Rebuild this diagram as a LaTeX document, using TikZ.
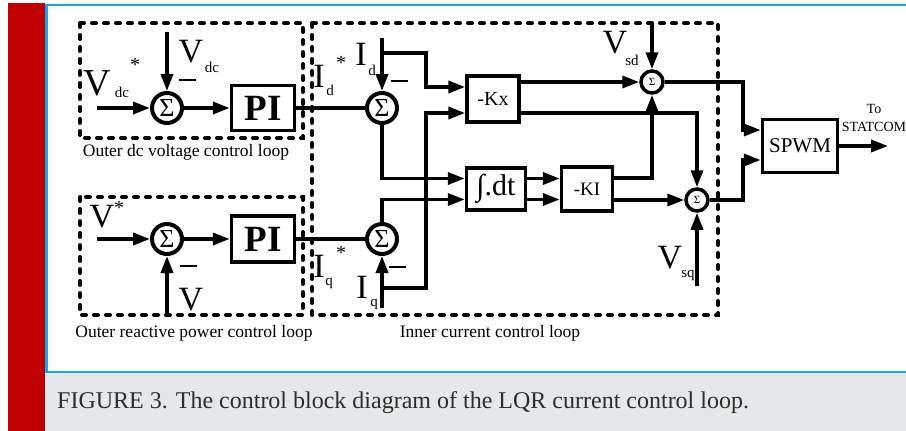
\documentclass[tikz,border=0pt]{standalone}
\usepackage{fontspec}
\setmainfont{Liberation Serif}
\usetikzlibrary{arrows.meta}
\definecolor{barred}{RGB}{192,0,0}
\definecolor{frameblue}{RGB}{20,170,230}
\definecolor{capgray}{RGB}{230,231,233}
\definecolor{captext}{RGB}{45,45,45}
\tikzset{
  sig/.style={line width=3.5pt,-{Triangle[length=17pt,width=12pt]}},
  wire/.style={line width=3.5pt},
  loopbox/.style={line width=4pt,dash pattern=on 4pt off 8pt,line cap=round},
  sumnode/.style={circle,draw,line width=4pt,fill=white,minimum size=30pt,inner sep=0pt,font=\fontsize{26}{26}\selectfont},
  ssum/.style={sumnode,minimum size=22pt,line width=3.5pt,font=\fontsize{11}{11}\selectfont},
  blockbox/.style={draw,line width=3.5pt,fill=white,inner sep=0pt},
  lbl/.style={font=\fontsize{34}{34}\selectfont,inner sep=0pt,anchor=base},
  lblsub/.style={font=\fontsize{15}{15}\selectfont,inner sep=0pt,anchor=base},
  lblstar/.style={font=\fontsize{20}{20}\selectfont,inner sep=0pt,anchor=base},
  minusbar/.style={inner sep=0pt},
  looplabel/.style={font=\fontsize{17.5}{17.5}\selectfont,inner sep=0pt}
}
\begin{document}
\begin{tikzpicture}[x=1pt,y=-1pt]
% page frame and caption strip
\useasboundingbox (0,0) rectangle (906,431);
\fill[white] (0,0) rectangle (906,431);
\fill[capgray] (46,373) rectangle (906,431);
\fill[barred] (8,3) rectangle (45,431);
\draw[frameblue,line width=2.5pt] (906,5) -- (46.5,5) -- (46.5,372) -- (906,372);
\node[anchor=base west,font=\fontsize{24}{24}\selectfont,text=captext,inner sep=0pt] (cap) at (57,408) {FIGURE 3. The control block diagram of the LQR current control loop.};

% dashed loops
\draw[loopbox] (80,23) rectangle (303,138);
\draw[loopbox] (80,197) rectangle (303,315);
\draw[loopbox] (312,23) rectangle (718,315);
\node[looplabel] (dclbl) at (186,152) {Outer dc voltage control loop};
\node[looplabel] (qlbl) at (194,333) {Outer reactive power control loop};
\node[looplabel] (inlbl) at (490,333) {Inner current control loop};

% outer dc voltage loop
\node[sumnode] (sdc) at (167,108) {Σ};
\node[blockbox,minimum width=63pt,minimum height=45pt,font=\fontsize{37}{37}\selectfont\bfseries] (pidc) at (263,108) {PI};
\coordinate (vdcref) at (97,108);
\coordinate (vdcin) at (167,32);
\draw[sig] (vdcref) -- (sdc);
\draw[sig] (vdcin) -- (sdc);
\draw[sig] (sdc) -- (pidc);
\node[lbl,font=\fontsize{38}{38}\selectfont] (vdcrefV) at (97,95) {V};
\node[lblsub] (vdcrefs) at (122,97) {dc};
\node[lblstar] (vdcrefst) at (135,71) {*};
\node[lbl] (vdcV) at (191,62) {V};
\node[lblsub] (vdcs) at (212,72) {dc};
\node[minusbar] (mdc) at (187,80) {\rule{17pt}{1.5pt}};

% outer reactive power loop
\node[sumnode] (sv) at (167,239) {Σ};
\node[blockbox,minimum width=63pt,minimum height=46pt,font=\fontsize{37}{37}\selectfont\bfseries] (piq) at (263,239) {PI};
\coordinate (vref) at (97,239);
\coordinate (vfb) at (167,315);
\draw[sig] (vref) -- (sv);
\draw[sig] (vfb) -- (sv);
\draw[sig] (sv) -- (piq);
\node[lbl] (vrefV) at (102,227) {V};
\node[lblstar] (vrefst) at (119,214) {*};
\node[lbl] (vfbV) at (191,310) {V};
\node[minusbar] (mv) at (188,266) {\rule{17pt}{1.5pt}};

% inner current loop
\node[sumnode] (sd) at (382,108) {Σ};
\node[sumnode] (sq) at (382,239) {Σ};
\node[blockbox,minimum width=52pt,minimum height=46pt,font=\fontsize{20}{20}\selectfont] (kx) at (493,99) {-Kx};
\node[blockbox,minimum width=59pt,minimum height=42pt,font=\fontsize{30}{30}\selectfont] (intg) at (496,189) {∫.dt};
\node[blockbox,minimum width=51pt,minimum height=44pt,font=\fontsize{19}{19}\selectfont] (ki) at (587,189) {-KI};
\coordinate (idin) at (382,38);
\coordinate (iqin) at (382,308);
\coordinate (brd) at (382,53);
\coordinate (brq) at (382,288);
\draw[wire] (pidc) -- (sd);
\draw[wire] (piq) -- (sq);
\draw[sig] (idin) -- (sd);
\draw[sig] (iqin) -- (sq);
\draw[sig] (brd) -- (426,53) |- ([yshift=12pt]kx.west);
\draw[sig] (brq) -- (426,288) |- ([yshift=-14pt]kx.west);
\draw[sig] (sd.south) |- ([yshift=10.5pt]intg.west);
\draw[sig] (sq.north) |- ([yshift=-10.5pt]intg.west);
\draw[sig] ([yshift=10.5pt]intg.east) -- ([yshift=10.5pt]ki.west);
\draw[sig] ([yshift=-10.5pt]intg.east) -- ([yshift=-10.5pt]ki.west);
\node[lbl] (idrefI) at (319,87) {I};
\node[lblsub] (idrefs) at (330,95) {d};
\node[lblstar] (idrefst) at (341,69) {*};
\node[lbl] (idI) at (361,65) {I};
\node[lblsub] (ids) at (372,75) {d};
\node[minusbar] (md) at (399,81) {\rule{17pt}{1.5pt}};
\node[lbl] (iqrefI) at (319,277) {I};
\node[lblsub] (iqrefs) at (329,285) {q};
\node[lblstar] (iqrefst) at (341,259) {*};
\node[lbl] (iqI) at (362,298) {I};
\node[lblsub] (iqs) at (374,306) {q};
\node[minusbar] (mq) at (397,267) {\rule{17pt}{1.5pt}};

% decoupling sums and modulator
\node[ssum] (ssd) at (652,82) {Σ};
\node[ssum] (ssq) at (697,200) {Σ};
\node[blockbox,minimum width=75pt,minimum height=53pt,font=\fontsize{21}{21}\selectfont] (spwm) at (800,146) {SPWM};
\coordinate (vsdin) at (652,23);
\coordinate (vsqin) at (697,286);
\coordinate (out) at (888,146);
\draw[sig] ([yshift=17pt]kx.east) -- (ssd);
\draw[sig] ([yshift=-14pt]kx.east) -| (ssq);
\draw[sig] ([yshift=11pt]ki.east) -| (ssd);
\draw[sig] ([yshift=-11pt]ki.east) -- (ssq);
\draw[sig] (vsdin) -- (ssd);
\draw[sig] (vsqin) -- (ssq);
\draw[sig] (ssd) -- (743,82) |- ([yshift=16pt]spwm.west);
\draw[sig] (ssq) -- (743,200) |- ([yshift=-14pt]spwm.west);
\draw[sig] (spwm) -- (out);
\node[lbl] (vsdV) at (615,53) {V};
\node[lblsub] (vsds) at (632,65) {sd};
\node[lbl] (vsqV) at (670,268) {V};
\node[lblsub] (vsqs) at (688,277) {sq};
\node[font=\fontsize{14}{18}\selectfont,align=center,inner sep=0pt] (tolbl) at (874,118) {To\\STATCOM};
\end{tikzpicture}
\end{document}
